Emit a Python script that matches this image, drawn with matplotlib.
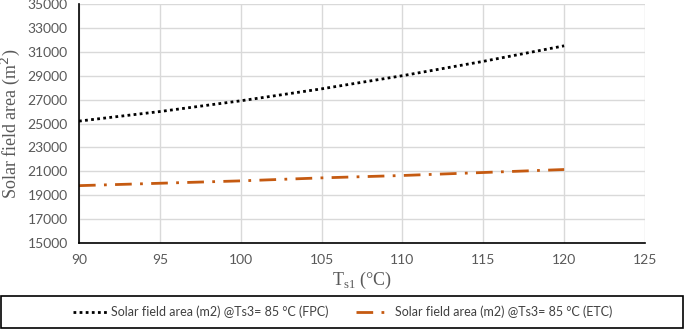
import matplotlib.pyplot as plt
from matplotlib.patches import Rectangle

ts1 = [90, 95, 100, 105, 110, 115, 120]
area_fpc = [25200, 26000, 26900, 27900, 29000, 30200, 31500]
area_etc = [19800, 20000, 20200, 20450, 20650, 20900, 21150]

plt.rcParams['font.family'] = ['Lato', 'DejaVu Sans']

fig = plt.figure(figsize=(6.85, 3.3), dpi=100)
ax = fig.add_axes([0.1153, 0.2636, 0.8263, 0.7243])

ax.plot(ts1, area_fpc, color='black', linestyle=(0, (1, 1.2)), linewidth=2,
        label='Solar field area (m2) @Ts3= 85 °C (FPC)')
ax.plot(ts1, area_etc, color='#c55a11', linestyle=(0, (6, 3, 1, 3)), linewidth=2,
        label='Solar field area (m2) @Ts3= 85 °C (ETC)')

ax.set_xlim(90, 125)
ax.set_ylim(15000, 35000)
ax.set_xticks(range(90, 126, 5))
ax.set_yticks(range(15000, 35001, 2000))
ax.grid(True, color='#d9d9d9', linewidth=1)
ax.set_axisbelow(True)
for s in ['top', 'right']:
    ax.spines[s].set_visible(False)
for s in ['left', 'bottom']:
    ax.spines[s].set_color('black')
    ax.spines[s].set_linewidth(1.2)
ax.tick_params(length=0, colors='#595959', labelsize=10, pad=8)

ax.set_ylabel('Solar field area (m$^2$)', family='Liberation Serif', fontsize=13,
              color='#595959', labelpad=4)
ax.set_xlabel('T$_{\\mathregular{s1}}$ (°C)', family='Liberation Serif', fontsize=13,
              color='#595959', labelpad=3)

# legend frame spanning the whole figure width
fig.patches.append(Rectangle((0.002, 0.006), 0.995, 0.097, transform=fig.transFigure,
                             fill=False, edgecolor='black', linewidth=1.2))
leg = fig.legend(loc='center', bbox_to_anchor=(0.5, 0.0545), ncol=2, frameon=False,
                 fontsize=9, handlelength=2.8, handletextpad=0.3, columnspacing=2.2)
for t in leg.get_texts():
    t.set_color('#404040')

fig.savefig('out.png', dpi=100)
